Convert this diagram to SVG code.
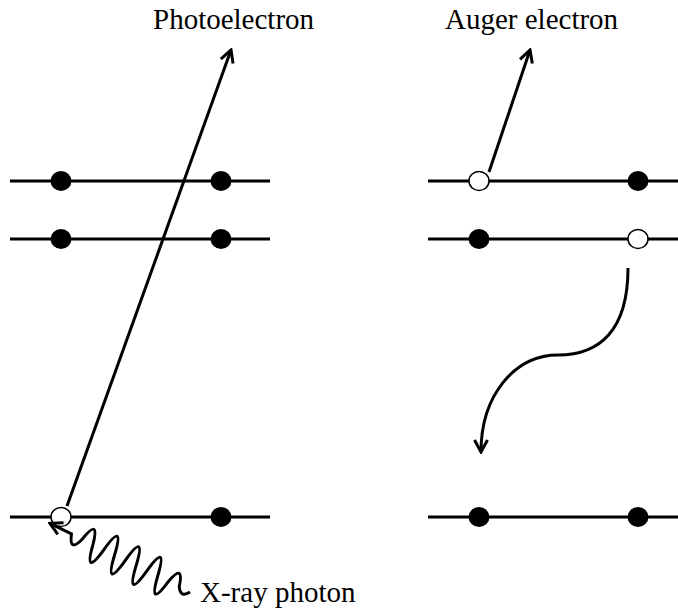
<svg xmlns="http://www.w3.org/2000/svg" width="678" height="611" viewBox="0 0 678 611">
<style>
.lvl{stroke:#000;stroke-width:3;fill:none}
.e{fill:#000}
.h{fill:#fff;stroke:#000;stroke-width:1.5}
.con{stroke:#000;stroke-width:3;fill:none}
.lbl{font-family:"Liberation Serif","Times New Roman",serif;font-size:29px;fill:#000}
</style>
<defs>
<marker id="arr" viewBox="-16 -9 18 18" refX="0" refY="0" markerWidth="18" markerHeight="18" markerUnits="userSpaceOnUse" orient="auto">
<path d="M-12,-6.5 L0,0 L-12,6.5" fill="none" stroke="#000" stroke-width="3"/>
</marker>
</defs>
<g id="left-levels">
<line class="lvl" x1="10" y1="181" x2="270" y2="181"/>
<line class="lvl" x1="10" y1="239" x2="270" y2="239"/>
<line class="lvl" x1="10" y1="517" x2="270" y2="517"/>
</g>
<g id="left-electrons">
<ellipse class="e" cx="61" cy="181" rx="10.5" ry="10"/>
<ellipse class="e" cx="221" cy="181" rx="10.5" ry="10"/>
<ellipse class="e" cx="61" cy="239" rx="10.5" ry="10"/>
<ellipse class="e" cx="221" cy="239" rx="10.5" ry="10"/>
<ellipse class="h" cx="61" cy="517" rx="10" ry="9.5"/>
<ellipse class="e" cx="221" cy="517" rx="10.5" ry="10"/>
</g>
<g id="right-levels">
<line class="lvl" x1="428" y1="181" x2="678" y2="181"/>
<line class="lvl" x1="428" y1="239" x2="678" y2="239"/>
<line class="lvl" x1="428" y1="517" x2="678" y2="517"/>
</g>
<g id="right-electrons">
<ellipse class="h" cx="479" cy="181" rx="10" ry="9.5"/>
<ellipse class="e" cx="638" cy="181" rx="10.5" ry="10"/>
<ellipse class="e" cx="479" cy="239" rx="10.5" ry="10"/>
<ellipse class="h" cx="638" cy="239" rx="10" ry="9.5"/>
<ellipse class="e" cx="479" cy="517" rx="10.5" ry="10"/>
<ellipse class="e" cx="638" cy="517" rx="10.5" ry="10"/>
</g>
<g id="connectors">
<line class="con" x1="67" y1="506" x2="231" y2="50" marker-end="url(#arr)"/>
<line class="con" x1="489" y1="172" x2="530" y2="50" marker-end="url(#arr)"/>
<path class="con" d="M628,268 C628,330 600,355 558,355 C515,355 481,395 481,452" marker-end="url(#arr)"/>
<g transform="translate(190,592) rotate(-153.9)">
<path class="con" stroke-width="2.5" d="M0,0 q6,-10 12,0 q6,24 12,0 q6,-34 12,0 q6,36 12,0 q6,-36 12,0 q6,36 12,0 q6,-36 12,0 q6,36 12,0 q6,-34 12,0 q6,28 12,0 q6,-18 12,0 l 24,0" marker-end="url(#arr)"/>
</g>
</g>
<g id="labels">
<text class="lbl" x="153" y="29">Photoelectron</text>
<text class="lbl" x="445" y="29">Auger electron</text>
<text class="lbl" x="200" y="602">X-ray photon</text>
</g>
</svg>
